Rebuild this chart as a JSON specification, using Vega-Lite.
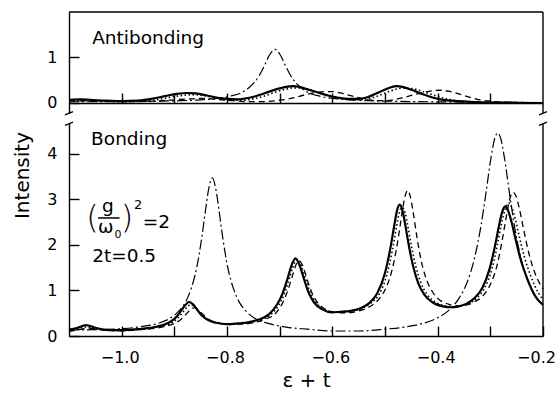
{
  "$schema": "https://vega.github.io/schema/vega-lite/v6.json",
  "background": "white",
  "padding": {"left": 12, "top": 11, "right": 4, "bottom": 4},
  "spacing": 5,
  "config": {
    "view": {"stroke": null},
    "font": "DejaVu Sans",
    "axis": {
      "grid": false,
      "domainColor": "black",
      "domainWidth": 1.4,
      "tickColor": "black",
      "tickWidth": 1.4,
      "tickSize": -10,
      "labelColor": "black",
      "labelFont": "DejaVu Sans",
      "labelFontSize": 16,
      "labelFlush": false,
      "labelOverlap": false,
      "titleFont": "DejaVu Sans",
      "titleFontSize": 20,
      "titleFontWeight": "normal",
      "titleColor": "black"
    },
    "line": {"color": "black", "interpolate": "monotone"},
    "rule": {"color": "black", "strokeWidth": 1.4},
    "text": {"font": "DejaVu Sans", "color": "black", "fontSize": 18.5, "align": "left", "baseline": "alphabetic"}
  },
  "datasets": {
    "anti_solid": [
      {"x": -1.10, "y": 0.07}, {"x": -1.08, "y": 0.08}, {"x": -1.06, "y": 0.07}, {"x": -1.03, "y": 0.05},
      {"x": -1.00, "y": 0.04}, {"x": -0.97, "y": 0.05}, {"x": -0.95, "y": 0.08}, {"x": -0.93, "y": 0.12},
      {"x": -0.91, "y": 0.17}, {"x": -0.895, "y": 0.20}, {"x": -0.876, "y": 0.22}, {"x": -0.86, "y": 0.21},
      {"x": -0.84, "y": 0.17}, {"x": -0.82, "y": 0.12}, {"x": -0.80, "y": 0.09}, {"x": -0.78, "y": 0.08},
      {"x": -0.76, "y": 0.11}, {"x": -0.74, "y": 0.17}, {"x": -0.72, "y": 0.25}, {"x": -0.70, "y": 0.32},
      {"x": -0.685, "y": 0.36}, {"x": -0.675, "y": 0.37}, {"x": -0.665, "y": 0.36}, {"x": -0.65, "y": 0.31},
      {"x": -0.63, "y": 0.24}, {"x": -0.61, "y": 0.17}, {"x": -0.59, "y": 0.12}, {"x": -0.57, "y": 0.09},
      {"x": -0.55, "y": 0.09}, {"x": -0.535, "y": 0.12}, {"x": -0.52, "y": 0.19}, {"x": -0.505, "y": 0.27},
      {"x": -0.49, "y": 0.34}, {"x": -0.478, "y": 0.37}, {"x": -0.465, "y": 0.35}, {"x": -0.45, "y": 0.29},
      {"x": -0.43, "y": 0.20}, {"x": -0.41, "y": 0.12}, {"x": -0.39, "y": 0.07}, {"x": -0.36, "y": 0.04},
      {"x": -0.33, "y": 0.02}, {"x": -0.30, "y": 0.01}, {"x": -0.25, "y": 0.005}, {"x": -0.20, "y": 0.0}
    ],
    "anti_dotted": [
      {"x": -1.10, "y": 0.05}, {"x": -1.07, "y": 0.05}, {"x": -1.03, "y": 0.04}, {"x": -1.00, "y": 0.03},
      {"x": -0.96, "y": 0.04}, {"x": -0.93, "y": 0.08}, {"x": -0.91, "y": 0.12}, {"x": -0.89, "y": 0.16},
      {"x": -0.868, "y": 0.18}, {"x": -0.85, "y": 0.17}, {"x": -0.83, "y": 0.13}, {"x": -0.81, "y": 0.09},
      {"x": -0.79, "y": 0.06}, {"x": -0.77, "y": 0.06}, {"x": -0.75, "y": 0.09}, {"x": -0.73, "y": 0.15},
      {"x": -0.71, "y": 0.23}, {"x": -0.69, "y": 0.30}, {"x": -0.675, "y": 0.33}, {"x": -0.662, "y": 0.33},
      {"x": -0.645, "y": 0.30}, {"x": -0.625, "y": 0.22}, {"x": -0.605, "y": 0.15}, {"x": -0.585, "y": 0.10},
      {"x": -0.565, "y": 0.07}, {"x": -0.545, "y": 0.07}, {"x": -0.525, "y": 0.11}, {"x": -0.51, "y": 0.17},
      {"x": -0.495, "y": 0.24}, {"x": -0.48, "y": 0.30}, {"x": -0.465, "y": 0.33}, {"x": -0.45, "y": 0.32},
      {"x": -0.43, "y": 0.26}, {"x": -0.41, "y": 0.18}, {"x": -0.39, "y": 0.11}, {"x": -0.37, "y": 0.06},
      {"x": -0.34, "y": 0.03}, {"x": -0.30, "y": 0.01}, {"x": -0.25, "y": 0.005}, {"x": -0.20, "y": 0.0}
    ],
    "anti_dashed": [
      {"x": -1.10, "y": 0.04}, {"x": -1.06, "y": 0.05}, {"x": -1.02, "y": 0.04}, {"x": -0.98, "y": 0.03},
      {"x": -0.94, "y": 0.04}, {"x": -0.90, "y": 0.07}, {"x": -0.87, "y": 0.09}, {"x": -0.845, "y": 0.10},
      {"x": -0.82, "y": 0.08}, {"x": -0.79, "y": 0.05}, {"x": -0.76, "y": 0.03}, {"x": -0.73, "y": 0.03},
      {"x": -0.70, "y": 0.06}, {"x": -0.675, "y": 0.11}, {"x": -0.655, "y": 0.17}, {"x": -0.635, "y": 0.22},
      {"x": -0.615, "y": 0.25}, {"x": -0.60, "y": 0.25}, {"x": -0.585, "y": 0.22}, {"x": -0.565, "y": 0.16},
      {"x": -0.545, "y": 0.10}, {"x": -0.525, "y": 0.06}, {"x": -0.505, "y": 0.05}, {"x": -0.485, "y": 0.07},
      {"x": -0.465, "y": 0.12}, {"x": -0.445, "y": 0.18}, {"x": -0.425, "y": 0.24}, {"x": -0.41, "y": 0.27},
      {"x": -0.395, "y": 0.28}, {"x": -0.38, "y": 0.26}, {"x": -0.36, "y": 0.20}, {"x": -0.34, "y": 0.13},
      {"x": -0.32, "y": 0.07}, {"x": -0.30, "y": 0.04}, {"x": -0.28, "y": 0.02}, {"x": -0.25, "y": 0.01},
      {"x": -0.20, "y": 0.0}
    ],
    "anti_dashdot": [
      {"x": -1.10, "y": 0.027}, {"x": -1.00, "y": 0.03}, {"x": -0.95, "y": 0.04}, {"x": -0.889, "y": 0.05},
      {"x": -0.849, "y": 0.07}, {"x": -0.819, "y": 0.10}, {"x": -0.794, "y": 0.15}, {"x": -0.774, "y": 0.22},
      {"x": -0.759, "y": 0.33}, {"x": -0.749, "y": 0.44}, {"x": -0.739, "y": 0.60}, {"x": -0.729, "y": 0.82},
      {"x": -0.719, "y": 1.06}, {"x": -0.709, "y": 1.18}, {"x": -0.699, "y": 1.06}, {"x": -0.689, "y": 0.82},
      {"x": -0.679, "y": 0.60}, {"x": -0.669, "y": 0.44}, {"x": -0.659, "y": 0.33}, {"x": -0.644, "y": 0.22},
      {"x": -0.624, "y": 0.15}, {"x": -0.599, "y": 0.10}, {"x": -0.569, "y": 0.07}, {"x": -0.529, "y": 0.05},
      {"x": -0.47, "y": 0.035}, {"x": -0.40, "y": 0.025}, {"x": -0.30, "y": 0.015}, {"x": -0.20, "y": 0.01}
    ],
    "bond_solid": [
      {"x": -1.10, "y": 0.14}, {"x": -1.085, "y": 0.175}, {"x": -1.068, "y": 0.24}, {"x": -1.05, "y": 0.18},
      {"x": -1.03, "y": 0.135}, {"x": -1.00, "y": 0.13}, {"x": -0.97, "y": 0.15}, {"x": -0.94, "y": 0.19},
      {"x": -0.92, "y": 0.245}, {"x": -0.905, "y": 0.33}, {"x": -0.895, "y": 0.435}, {"x": -0.885, "y": 0.59},
      {"x": -0.879, "y": 0.68}, {"x": -0.872, "y": 0.75}, {"x": -0.865, "y": 0.70}, {"x": -0.857, "y": 0.58},
      {"x": -0.847, "y": 0.44}, {"x": -0.835, "y": 0.345}, {"x": -0.82, "y": 0.29}, {"x": -0.80, "y": 0.26},
      {"x": -0.78, "y": 0.275}, {"x": -0.76, "y": 0.30}, {"x": -0.74, "y": 0.36}, {"x": -0.72, "y": 0.48},
      {"x": -0.705, "y": 0.69}, {"x": -0.695, "y": 0.92}, {"x": -0.685, "y": 1.26}, {"x": -0.678, "y": 1.53},
      {"x": -0.670, "y": 1.70}, {"x": -0.662, "y": 1.55}, {"x": -0.655, "y": 1.29}, {"x": -0.645, "y": 0.95},
      {"x": -0.635, "y": 0.74}, {"x": -0.62, "y": 0.59}, {"x": -0.60, "y": 0.52}, {"x": -0.585, "y": 0.53},
      {"x": -0.565, "y": 0.55}, {"x": -0.545, "y": 0.615}, {"x": -0.53, "y": 0.72}, {"x": -0.515, "y": 0.93},
      {"x": -0.50, "y": 1.38}, {"x": -0.49, "y": 1.91}, {"x": -0.482, "y": 2.45}, {"x": -0.477, "y": 2.76},
      {"x": -0.472, "y": 2.88}, {"x": -0.467, "y": 2.76}, {"x": -0.462, "y": 2.47}, {"x": -0.455, "y": 2.0},
      {"x": -0.447, "y": 1.55}, {"x": -0.437, "y": 1.16}, {"x": -0.425, "y": 0.90}, {"x": -0.41, "y": 0.74},
      {"x": -0.39, "y": 0.65}, {"x": -0.375, "y": 0.63}, {"x": -0.36, "y": 0.65}, {"x": -0.345, "y": 0.71},
      {"x": -0.33, "y": 0.83}, {"x": -0.315, "y": 1.06}, {"x": -0.302, "y": 1.45}, {"x": -0.292, "y": 1.93},
      {"x": -0.284, "y": 2.39}, {"x": -0.278, "y": 2.70}, {"x": -0.272, "y": 2.84}, {"x": -0.266, "y": 2.74},
      {"x": -0.260, "y": 2.51}, {"x": -0.252, "y": 2.12}, {"x": -0.242, "y": 1.66}, {"x": -0.23, "y": 1.26},
      {"x": -0.215, "y": 0.88}, {"x": -0.20, "y": 0.68}
    ],
    "bond_dotted": [
      {"x": -1.10, "y": 0.12}, {"x": -1.085, "y": 0.15}, {"x": -1.065, "y": 0.20}, {"x": -1.05, "y": 0.17},
      {"x": -1.03, "y": 0.13}, {"x": -1.00, "y": 0.12}, {"x": -0.97, "y": 0.14}, {"x": -0.94, "y": 0.18},
      {"x": -0.92, "y": 0.23}, {"x": -0.902, "y": 0.31}, {"x": -0.892, "y": 0.41}, {"x": -0.882, "y": 0.55},
      {"x": -0.876, "y": 0.63}, {"x": -0.869, "y": 0.69}, {"x": -0.862, "y": 0.65}, {"x": -0.854, "y": 0.55},
      {"x": -0.844, "y": 0.42}, {"x": -0.832, "y": 0.33}, {"x": -0.817, "y": 0.28}, {"x": -0.797, "y": 0.255},
      {"x": -0.777, "y": 0.27}, {"x": -0.757, "y": 0.295}, {"x": -0.737, "y": 0.355}, {"x": -0.717, "y": 0.47},
      {"x": -0.702, "y": 0.67}, {"x": -0.692, "y": 0.90}, {"x": -0.682, "y": 1.24}, {"x": -0.675, "y": 1.51},
      {"x": -0.667, "y": 1.68}, {"x": -0.659, "y": 1.54}, {"x": -0.652, "y": 1.29}, {"x": -0.642, "y": 0.96},
      {"x": -0.632, "y": 0.75}, {"x": -0.617, "y": 0.60}, {"x": -0.597, "y": 0.53}, {"x": -0.582, "y": 0.535},
      {"x": -0.562, "y": 0.555}, {"x": -0.542, "y": 0.615}, {"x": -0.527, "y": 0.72}, {"x": -0.511, "y": 0.92},
      {"x": -0.496, "y": 1.36}, {"x": -0.486, "y": 1.88}, {"x": -0.478, "y": 2.40}, {"x": -0.473, "y": 2.70},
      {"x": -0.467, "y": 2.82}, {"x": -0.462, "y": 2.71}, {"x": -0.457, "y": 2.43}, {"x": -0.450, "y": 1.98},
      {"x": -0.442, "y": 1.55}, {"x": -0.432, "y": 1.17}, {"x": -0.42, "y": 0.91}, {"x": -0.405, "y": 0.75},
      {"x": -0.385, "y": 0.66}, {"x": -0.37, "y": 0.64}, {"x": -0.355, "y": 0.66}, {"x": -0.34, "y": 0.72},
      {"x": -0.325, "y": 0.84}, {"x": -0.31, "y": 1.07}, {"x": -0.297, "y": 1.47}, {"x": -0.287, "y": 1.97},
      {"x": -0.279, "y": 2.45}, {"x": -0.272, "y": 2.77}, {"x": -0.265, "y": 2.92}, {"x": -0.259, "y": 2.81},
      {"x": -0.253, "y": 2.58}, {"x": -0.245, "y": 2.18}, {"x": -0.235, "y": 1.72}, {"x": -0.223, "y": 1.31},
      {"x": -0.208, "y": 0.93}, {"x": -0.20, "y": 0.80}
    ],
    "bond_dashed": [
      {"x": -1.10, "y": 0.10}, {"x": -1.085, "y": 0.13}, {"x": -1.062, "y": 0.17}, {"x": -1.045, "y": 0.15},
      {"x": -1.025, "y": 0.12}, {"x": -1.00, "y": 0.115}, {"x": -0.96, "y": 0.145}, {"x": -0.935, "y": 0.17},
      {"x": -0.914, "y": 0.22}, {"x": -0.899, "y": 0.28}, {"x": -0.886, "y": 0.38}, {"x": -0.876, "y": 0.50},
      {"x": -0.868, "y": 0.59}, {"x": -0.862, "y": 0.62}, {"x": -0.856, "y": 0.59}, {"x": -0.848, "y": 0.50},
      {"x": -0.838, "y": 0.39}, {"x": -0.825, "y": 0.31}, {"x": -0.81, "y": 0.27}, {"x": -0.79, "y": 0.26},
      {"x": -0.77, "y": 0.26}, {"x": -0.75, "y": 0.29}, {"x": -0.73, "y": 0.36}, {"x": -0.71, "y": 0.47},
      {"x": -0.695, "y": 0.71}, {"x": -0.685, "y": 0.985}, {"x": -0.676, "y": 1.31}, {"x": -0.669, "y": 1.56},
      {"x": -0.663, "y": 1.65}, {"x": -0.657, "y": 1.56}, {"x": -0.650, "y": 1.32}, {"x": -0.641, "y": 1.01},
      {"x": -0.631, "y": 0.78}, {"x": -0.618, "y": 0.62}, {"x": -0.60, "y": 0.53}, {"x": -0.585, "y": 0.51},
      {"x": -0.57, "y": 0.51}, {"x": -0.555, "y": 0.535}, {"x": -0.539, "y": 0.59}, {"x": -0.524, "y": 0.68},
      {"x": -0.51, "y": 0.83}, {"x": -0.497, "y": 1.085}, {"x": -0.487, "y": 1.43}, {"x": -0.479, "y": 1.86},
      {"x": -0.472, "y": 2.36}, {"x": -0.467, "y": 2.75}, {"x": -0.462, "y": 3.06}, {"x": -0.457, "y": 3.19},
      {"x": -0.452, "y": 3.06}, {"x": -0.447, "y": 2.75}, {"x": -0.439, "y": 2.14}, {"x": -0.432, "y": 1.69},
      {"x": -0.422, "y": 1.26}, {"x": -0.41, "y": 0.97}, {"x": -0.395, "y": 0.78}, {"x": -0.38, "y": 0.70},
      {"x": -0.36, "y": 0.66}, {"x": -0.345, "y": 0.68}, {"x": -0.33, "y": 0.75}, {"x": -0.315, "y": 0.87},
      {"x": -0.30, "y": 1.13}, {"x": -0.287, "y": 1.56}, {"x": -0.277, "y": 2.13}, {"x": -0.269, "y": 2.66},
      {"x": -0.263, "y": 3.01}, {"x": -0.257, "y": 3.15}, {"x": -0.251, "y": 3.06}, {"x": -0.245, "y": 2.80},
      {"x": -0.237, "y": 2.35}, {"x": -0.227, "y": 1.82}, {"x": -0.215, "y": 1.37}, {"x": -0.20, "y": 1.03}
    ],
    "bond_dashdot": [
      {"x": -1.10, "y": 0.13}, {"x": -1.05, "y": 0.14}, {"x": -1.00, "y": 0.16}, {"x": -0.96, "y": 0.21},
      {"x": -0.93, "y": 0.28}, {"x": -0.908, "y": 0.39}, {"x": -0.893, "y": 0.53}, {"x": -0.878, "y": 0.76},
      {"x": -0.868, "y": 1.04}, {"x": -0.858, "y": 1.47}, {"x": -0.848, "y": 2.15}, {"x": -0.841, "y": 2.74},
      {"x": -0.835, "y": 3.21}, {"x": -0.828, "y": 3.47}, {"x": -0.821, "y": 3.21}, {"x": -0.815, "y": 2.74},
      {"x": -0.808, "y": 2.15}, {"x": -0.798, "y": 1.47}, {"x": -0.788, "y": 1.05}, {"x": -0.778, "y": 0.77},
      {"x": -0.763, "y": 0.535}, {"x": -0.743, "y": 0.36}, {"x": -0.718, "y": 0.265}, {"x": -0.688, "y": 0.195},
      {"x": -0.648, "y": 0.15}, {"x": -0.60, "y": 0.11}, {"x": -0.55, "y": 0.11}, {"x": -0.50, "y": 0.15},
      {"x": -0.46, "y": 0.20}, {"x": -0.43, "y": 0.27}, {"x": -0.40, "y": 0.40}, {"x": -0.38, "y": 0.55},
      {"x": -0.36, "y": 0.82}, {"x": -0.345, "y": 1.15}, {"x": -0.33, "y": 1.71}, {"x": -0.318, "y": 2.40},
      {"x": -0.308, "y": 3.16}, {"x": -0.299, "y": 3.89}, {"x": -0.292, "y": 4.32}, {"x": -0.286, "y": 4.45},
      {"x": -0.280, "y": 4.32}, {"x": -0.273, "y": 3.89}, {"x": -0.264, "y": 3.16}, {"x": -0.254, "y": 2.40},
      {"x": -0.242, "y": 1.71}, {"x": -0.227, "y": 1.15}, {"x": -0.212, "y": 0.82}, {"x": -0.20, "y": 0.69}
    ]
  },
  "vconcat": [
    {
      "width": 474,
      "height": 101,
      "data": {"values": [{}]},
      "layer": [
        {
          "data": {"name": "anti_dashdot"},
          "mark": {"type": "line", "strokeDash": [10, 3, 2, 3], "strokeWidth": 1.2},
          "encoding": {
            "x": {"field": "x", "type": "quantitative",
                  "scale": {"domain": [-1.1, -0.2], "nice": false, "zero": false},
                  "axis": {"values": [-1.0, -0.9, -0.8, -0.7, -0.6, -0.5, -0.4, -0.3], "labels": false, "title": null, "offset": -10}},
            "y": {"field": "y", "type": "quantitative",
                  "scale": {"domain": [-0.22, 2.0], "nice": false, "zero": false},
                  "axis": {"values": [0, 1], "title": null, "labelPadding": 22}}
          }
        },
        {
          "data": {"name": "anti_dashed"},
          "mark": {"type": "line", "strokeDash": [6, 4], "strokeWidth": 1.3},
          "encoding": {"x": {"field": "x", "type": "quantitative"}, "y": {"field": "y", "type": "quantitative"}}
        },
        {
          "data": {"name": "anti_dotted"},
          "mark": {"type": "line", "strokeDash": [1.5, 2.5], "strokeWidth": 1.6},
          "encoding": {"x": {"field": "x", "type": "quantitative"}, "y": {"field": "y", "type": "quantitative"}}
        },
        {
          "data": {"name": "anti_solid"},
          "mark": {"type": "line", "strokeWidth": 2.2},
          "encoding": {"x": {"field": "x", "type": "quantitative"}, "y": {"field": "y", "type": "quantitative"}}
        },
        {"mark": "rule", "encoding": {"y": {"datum": 2.0, "type": "quantitative"}}},
        {"mark": "rule", "encoding": {"x": {"datum": -0.2, "type": "quantitative"}}},
        {"mark": "rule", "encoding": {
          "x": {"datum": -1.1076, "type": "quantitative"}, "x2": {"datum": -1.0924},
          "y": {"datum": -0.26, "type": "quantitative"}, "y2": {"datum": -0.19}}},
        {"mark": "rule", "encoding": {
          "x": {"datum": -0.2076, "type": "quantitative"}, "x2": {"datum": -0.1924},
          "y": {"datum": -0.26, "type": "quantitative"}, "y2": {"datum": -0.19}}},
        {"mark": "text", "encoding": {
          "x": {"datum": -1.056, "type": "quantitative"}, "y": {"datum": 1.30, "type": "quantitative"},
          "text": {"value": "Antibonding"}}}
      ]
    },
    {
      "width": 474,
      "height": 213,
      "data": {"values": [{}]},
      "layer": [
        {
          "data": {"name": "bond_dashdot"},
          "mark": {"type": "line", "strokeDash": [10, 3, 2, 3], "strokeWidth": 1.2},
          "encoding": {
            "x": {"field": "x", "type": "quantitative",
                  "scale": {"domain": [-1.1, -0.2], "nice": false, "zero": false},
                  "axis": {"values": [-1.0, -0.9, -0.8, -0.7, -0.6, -0.5, -0.4, -0.3, -0.2],
                           "labelExpr": "round(datum.value * 10) % 2 != 0 ? '' : format(datum.value, '.1f')",
                           "labelOffset": {"condition": {"test": "datum.value > -0.25", "value": -7}, "value": -2},
                           "labelPadding": 23, "title": "ε + t", "titlePadding": 5}},
            "y": {"field": "y", "type": "quantitative",
                  "scale": {"domain": [0, 4.67], "nice": false, "zero": false},
                  "axis": {"values": [0, 1, 2, 3, 4], "title": "Intensity", "labelPadding": 22,
                           "titleY": 52, "titlePadding": 14}}
          }
        },
        {
          "data": {"name": "bond_dashed"},
          "mark": {"type": "line", "strokeDash": [6, 4], "strokeWidth": 1.3},
          "encoding": {"x": {"field": "x", "type": "quantitative"}, "y": {"field": "y", "type": "quantitative"}}
        },
        {
          "data": {"name": "bond_dotted"},
          "mark": {"type": "line", "strokeDash": [1.5, 2.5], "strokeWidth": 1.6},
          "encoding": {"x": {"field": "x", "type": "quantitative"}, "y": {"field": "y", "type": "quantitative"}}
        },
        {
          "data": {"name": "bond_solid"},
          "mark": {"type": "line", "strokeWidth": 2.2},
          "encoding": {"x": {"field": "x", "type": "quantitative"}, "y": {"field": "y", "type": "quantitative"}}
        },
        {"mark": "rule", "encoding": {"x": {"datum": -0.2, "type": "quantitative"}}},
        {"mark": "rule", "encoding": {
          "x": {"datum": -1.1076, "type": "quantitative"}, "x2": {"datum": -1.0924},
          "y": {"datum": 4.62, "type": "quantitative"}, "y2": {"datum": 4.69}}},
        {"mark": "rule", "encoding": {
          "x": {"datum": -0.2076, "type": "quantitative"}, "x2": {"datum": -0.1924},
          "y": {"datum": 4.62, "type": "quantitative"}, "y2": {"datum": 4.69}}},
        {"mark": "text", "encoding": {
          "x": {"datum": -1.058, "type": "quantitative"}, "y": {"datum": 4.19, "type": "quantitative"},
          "text": {"value": "Bonding"}}},
        {"mark": {"type": "text", "align": "center", "baseline": "middle", "fontSize": 32, "fontWeight": 200},
         "encoding": {"x": {"datum": -1.0555, "type": "quantitative"}, "y": {"datum": 2.58, "type": "quantitative"},
                      "text": {"value": "("}}},
        {"mark": {"type": "text", "align": "center"},
         "encoding": {"x": {"datum": -1.026, "type": "quantitative"}, "y": {"datum": 2.72, "type": "quantitative"},
                      "text": {"value": "g"}}},
        {"mark": {"type": "rule", "strokeWidth": 1.5}, "encoding": {
          "x": {"datum": -1.045, "type": "quantitative"}, "x2": {"datum": -1.004},
          "y": {"datum": 2.588, "type": "quantitative"}}},
        {"mark": {"type": "text", "align": "center"},
         "encoding": {"x": {"datum": -1.030, "type": "quantitative"}, "y": {"datum": 2.26, "type": "quantitative"},
                      "text": {"value": "ω"}}},
        {"mark": {"type": "text", "fontSize": 11},
         "encoding": {"x": {"datum": -1.0135, "type": "quantitative"}, "y": {"datum": 2.15, "type": "quantitative"},
                      "text": {"value": "0"}}},
        {"mark": {"type": "text", "align": "center", "baseline": "middle", "fontSize": 32, "fontWeight": 200},
         "encoding": {"x": {"datum": -0.990, "type": "quantitative"}, "y": {"datum": 2.58, "type": "quantitative"},
                      "text": {"value": ")"}}},
        {"mark": {"type": "text", "fontSize": 13},
         "encoding": {"x": {"datum": -0.9765, "type": "quantitative"}, "y": {"datum": 2.79, "type": "quantitative"},
                      "text": {"value": "2"}}},
        {"mark": "text",
         "encoding": {"x": {"datum": -0.960, "type": "quantitative"}, "y": {"datum": 2.37, "type": "quantitative"},
                      "text": {"value": "=2"}}},
        {"mark": "text",
         "encoding": {"x": {"datum": -1.056, "type": "quantitative"}, "y": {"datum": 1.62, "type": "quantitative"},
                      "text": {"value": "2t=0.5"}}}
      ]
    }
  ]
}
